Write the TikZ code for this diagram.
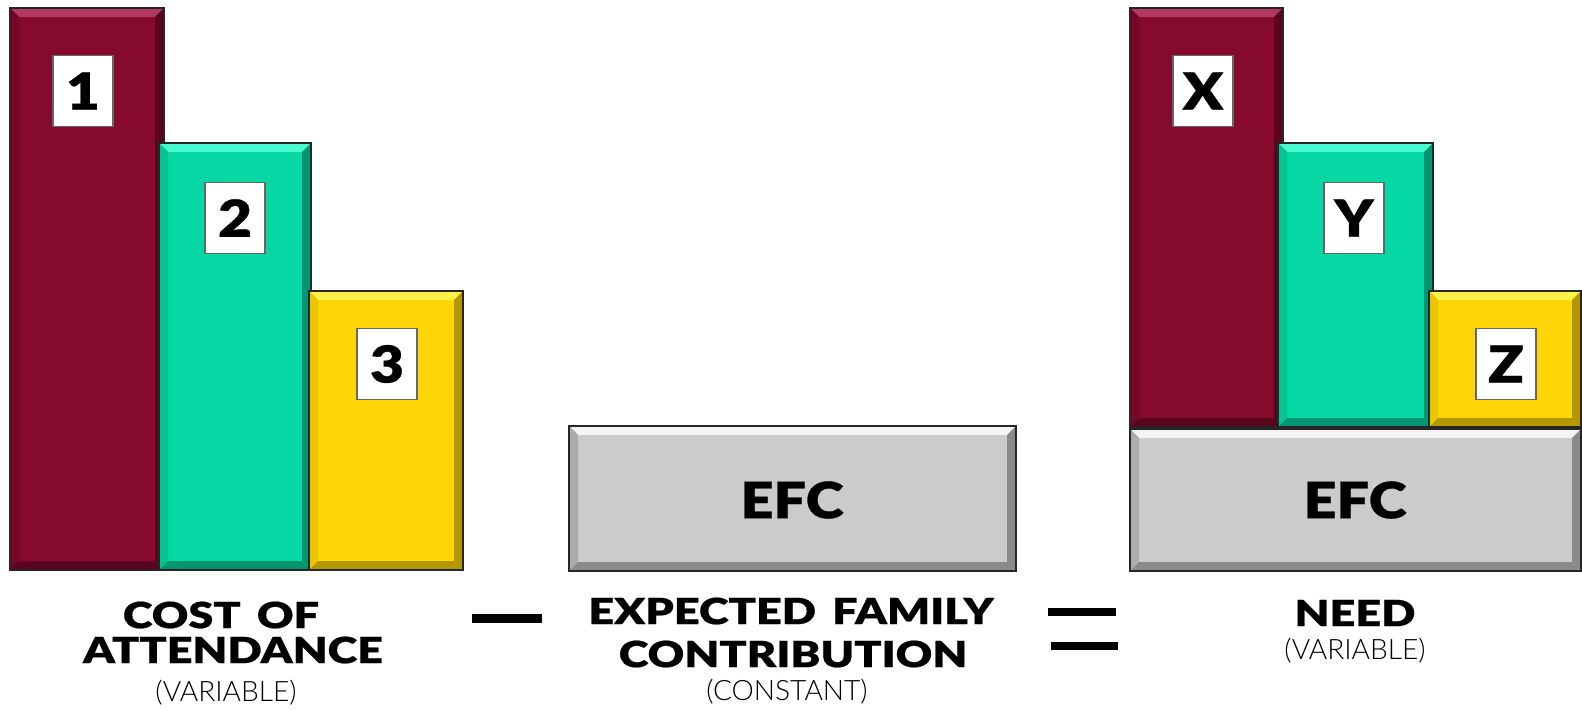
\documentclass[tikz,border=0pt]{standalone}
\usepackage{fontspec}
\setmainfont{Lato}
\newfontfamily\heavyf{Lato Black}[FakeStretch=1.15,FakeBold=0.6]
\newfontfamily\widef{Lato Black}[FakeStretch=1.25,FakeBold=0.6]
\newfontfamily\lightf{Lato Light}
\definecolor{mar}{HTML}{850A2D}
\definecolor{marT}{HTML}{B23A5E}
\definecolor{marD}{HTML}{5A051D}
\definecolor{marL}{HTML}{750827}
\definecolor{tea}{HTML}{05D8A4}
\definecolor{teaT}{HTML}{4AFBD2}
\definecolor{teaD}{HTML}{03956F}
\definecolor{teaL}{HTML}{04C493}
\definecolor{yel}{HTML}{FED606}
\definecolor{yelT}{HTML}{FFF04A}
\definecolor{yelD}{HTML}{B39600}
\definecolor{yelL}{HTML}{EAC500}
\definecolor{gry}{HTML}{CBCBCB}
\definecolor{gryT}{HTML}{F4F4F4}
\definecolor{gryD}{HTML}{8A8A8A}
\definecolor{gryL}{HTML}{ACACAC}
\newcommand\bw{9}
% bevelled block: x1 y1 x2 y2 colour-prefix
\newcommand\bevblock[5]{%
  \fill[#5] (#1,#2) rectangle (#3,#4);
  \fill[#5T] (#1,#2) -- (#3,#2) -- (#3-\bw,#2+\bw) -- (#1+\bw,#2+\bw) -- cycle;
  \fill[#5L] (#1,#2) -- (#1+\bw,#2+\bw) -- (#1+\bw,#4-\bw) -- (#1,#4) -- cycle;
  \fill[#5D] (#3,#2) -- (#3,#4) -- (#3-\bw,#4-\bw) -- (#3-\bw,#2+\bw) -- cycle;
  \fill[#5D] (#1,#4) -- (#3,#4) -- (#3-\bw,#4-\bw) -- (#1+\bw,#4-\bw) -- cycle;
  \draw[line width=1.3pt,black!85] (#1,#2) rectangle (#3,#4);
}
\tikzset{
  tag/.style={draw=black!60,line width=0.6pt,fill=white,minimum width=60*0.02cm,minimum height=71*0.02cm,inner sep=0pt,font=\heavyf\fontsize{29}{30}\selectfont},
  efc/.style={font=\heavyf\fontsize{28.5}{30}\selectfont,inner sep=0pt},
  lbl/.style={font=\widef\fontsize{20.5}{22}\selectfont,inner sep=0pt},
  sub/.style={font=\lightf\fontsize{16}{18}\selectfont,inner sep=0pt},
  opbar/.style={fill=black}
}
\begin{document}
\begin{tikzpicture}[x=0.02cm,y=-0.02cm]
\useasboundingbox (0,0) rectangle (1582,710);
% left: cost of attendance
\bevblock{10}{8}{164}{570}{mar}
\bevblock{159}{143}{311}{570}{tea}
\bevblock{309}{291}{463}{570}{yel}
\node[tag] (t1) at (83,91) {1};
\node[tag] (t2) at (235,218) {2};
\node[tag] (t3) at (387,364) {3};
% middle: EFC
\bevblock{569}{426}{1016}{571}{gry}
\node[efc] (efcm) at (792,500) {EFC};
% right: need
\bevblock{1130}{8}{1283}{427}{mar}
\bevblock{1278}{143}{1433}{427}{tea}
\bevblock{1429}{291}{1581}{427}{yel}
\bevblock{1130}{429}{1581}{571}{gry}
\node[tag] (tx) at (1203,91) {X};
\node[tag] (ty) at (1354,218) {Y};
\node[tag] (tz) at (1506,364) {Z};
\node[efc] (efcr) at (1355,500) {EFC};
% labels
\node[lbl] (coa1) at (221,615) {COST\hspace{0.45em}OF};
\node[lbl] (coa2) at (233,650) {ATTENDANCE};
\node[sub] (coa3) at (226,693) {(VARIABLE)};
\node[lbl] (efc1) at (791,611) {EXPECTED\hspace{0.45em}FAMILY};
\node[lbl] (efc2) at (793,654) {CONTRIBUTION};
\node[sub] (efc3) at (787,692) {(CONSTANT)};
\node[lbl] (need1) at (1355,613) {NEED};
\node[sub] (need2) at (1355,651) {(VARIABLE)};
% operators
\fill[opbar] (472,614) rectangle (542,623);
\fill[opbar] (1048,608) rectangle (1116,616);
\fill[opbar] (1051,642) rectangle (1118,650);
\end{tikzpicture}
\end{document}
